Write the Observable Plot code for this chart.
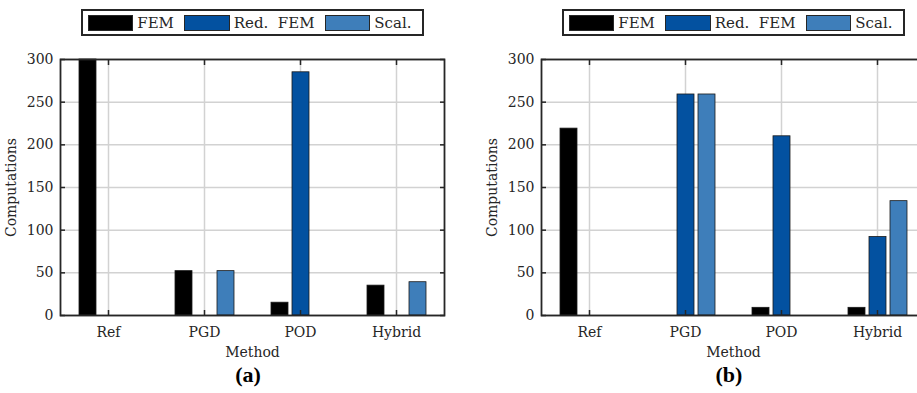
<!DOCTYPE html>
<html><head><meta charset="utf-8">
<script src="https://cdn.jsdelivr.net/npm/d3@7"></script>
<script src="https://cdn.jsdelivr.net/npm/@observablehq/plot@0.6"></script>
<style>
body{margin:0;background:#fff;overflow:hidden;}
#page{position:relative;width:917px;height:393px;overflow:hidden;background:#fff;}
.panel{position:absolute;top:0;}
.panel svg{max-width:none !important;}
.legend{position:absolute;top:9px;width:343px;height:27px;box-sizing:border-box;border:2px solid #262626;background:#fff;display:flex;align-items:center;font-family:"DejaVu Serif";font-size:15px;color:#262626;padding-left:5px;}
.sw{width:49px;height:16px;box-sizing:border-box;border:1px solid #262626;margin-right:4px;}
.lab{margin-right:10px;white-space:pre;}
.caption{position:absolute;top:362px;width:100px;font-family:"Liberation Serif";font-weight:bold;font-size:22px;text-align:center;color:#000;}
</style></head>
<body><div id="page"></div>
<script>
const methods = ["Ref", "PGD", "POD", "Hybrid"];
const series = ["FEM", "Red. FEM", "Scal."];
const seriesLabels = ["FEM", "Red.  FEM", "Scal."];
const colors = ["#000000", "#0351A0", "#3E7EBA"];
const yTicks = [0, 50, 100, 150, 200, 250, 300];

// Panel (a)
const femA  = [300, 52, 15, 35];
const redA  = [0, 0, 285, 0];
const scalA = [0, 52, 0, 39];
// Panel (b)
const femB  = [219, 0, 9, 9];
const redB  = [0, 259, 210, 92];
const scalB = [0, 259, 0, 134];

function table(fem, red, scal) {
  const cols = [fem, red, scal];
  const rows = [];
  methods.forEach((m, i) => series.forEach((s, j) => rows.push({method: m, series: s, value: cols[j][i]})));
  return rows;
}
// one horizontal grid line per tick in every method facet
const gridRows = methods.flatMap(m => yTicks.map(t => ({method: m, tick: t})));

const page = document.getElementById("page");

function panel({left, width, marginLeft, marginRight, data, caption}) {
  const ink = "#262626";
  const grid = "#d2d2d2";
  const chart = Plot.plot({
    width, height: 365,
    marginTop: 59, marginBottom: 50, marginLeft, marginRight,
    style: {fontFamily: "DejaVu Serif", fontSize: "14px", color: ink, background: "transparent", overflow: "visible"},
    fx: {domain: methods, padding: 0, label: null},
    x: {domain: series, paddingInner: 0.21, paddingOuter: 0.84, axis: null},
    y: {domain: [0, 300], label: null},
    color: {domain: series, range: colors},
    marks: [
      Plot.ruleY(gridRows, {fx: "method", y: "tick", stroke: grid, strokeWidth: 1.5}),
      Plot.gridFx({stroke: grid, strokeOpacity: 1, strokeWidth: 1.5}),
      Plot.barY(data, {filter: d => d.value > 0, fx: "method", x: "series", y: "value", fill: "series", stroke: "#1a1a1a", strokeWidth: 0.8}),
      Plot.axisY({anchor: "left", ticks: yTicks, tickSize: -5, tickPadding: 12, strokeWidth: 1.5,
                  label: "Computations", labelAnchor: "center", labelOffset: 54, labelArrow: "none"}),
      Plot.axisY({anchor: "right", ticks: yTicks, tickSize: -5, strokeWidth: 1.5, tickFormat: () => "", label: null}),
      Plot.axisFx({anchor: "bottom", tickSize: -5, tickPadding: 17, strokeWidth: 1.5,
                   label: "Method", labelAnchor: "center", labelOffset: 41, labelArrow: "none"}),
      Plot.axisFx({anchor: "top", tickSize: -5, strokeWidth: 1.5, tickFormat: () => "", label: null}),
      Plot.frame({facet: "super", stroke: ink, strokeWidth: 1.8})
    ]
  });
  const div = document.createElement("div");
  div.className = "panel";
  div.style.left = left + "px";
  div.appendChild(chart);
  page.appendChild(div);

  const axisCenter = left + marginLeft + (width - marginLeft - marginRight) / 2;
  const lg = document.createElement("div");
  lg.className = "legend";
  lg.style.left = (axisCenter - 343 / 2) + "px";
  series.forEach((s, j) => {
    const sw = document.createElement("div");
    sw.className = "sw";
    sw.style.background = colors[j];
    const lab = document.createElement("span");
    lab.className = "lab";
    lab.textContent = seriesLabels[j];
    lg.appendChild(sw); lg.appendChild(lab);
  });
  page.appendChild(lg);

  const cap = document.createElement("div");
  cap.className = "caption";
  cap.textContent = caption;
  cap.style.left = (axisCenter - 4 - 50) + "px";
  page.appendChild(cap);
}

panel({left: 0, width: 459, marginLeft: 60, marginRight: 15, data: table(femA, redA, scalA), caption: "(a)"});
panel({left: 460, width: 480, marginLeft: 81, marginRight: 15, data: table(femB, redB, scalB), caption: "(b)"});
</script>
</body></html>
